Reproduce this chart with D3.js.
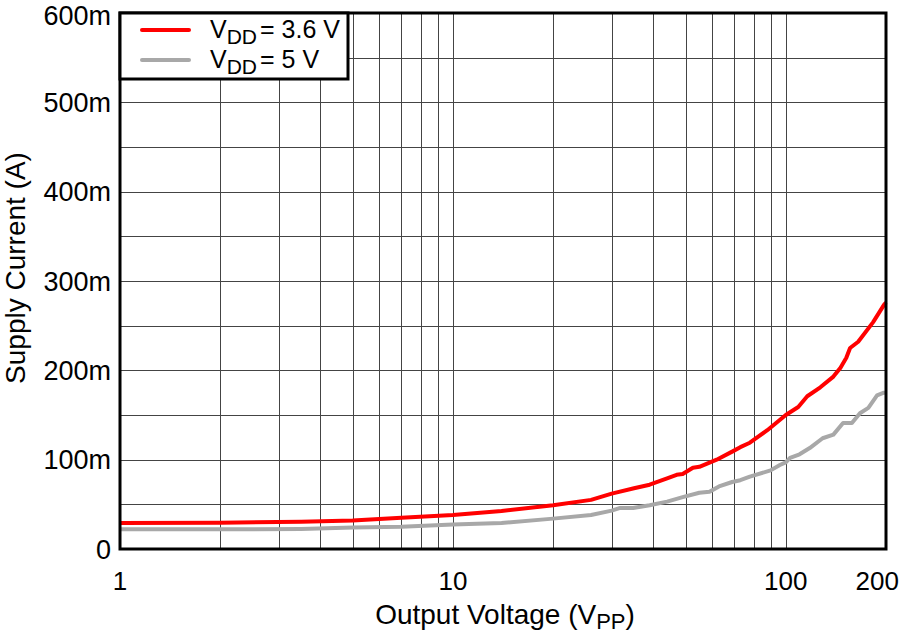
<!DOCTYPE html>
<html>
<head>
<meta charset="utf-8">
<script src="https://cdn.jsdelivr.net/npm/d3@7"></script>
<style>
  html, body { margin: 0; padding: 0; background: #fff; }
  svg { display: block; }
  text { font-family: "Liberation Sans", Arial, sans-serif; fill: #000; }
</style>
</head>
<body>
<svg id="chart" width="902" height="636"></svg>
<script>
// ---- Data (values in mA) ----
const vdd36Voltage = [1, 2, 3.5, 5, 7, 10, 14, 20, 26, 30, 35, 39, 44, 47, 49, 52.6, 55, 62, 69, 73, 78, 88, 100, 109, 116, 127, 139, 146, 152, 156, 165, 183, 197, 200];
const vdd36Current = [29, 29.5, 30.5, 32, 35, 38, 42.5, 49, 55, 62, 68, 72, 79, 83, 84, 91, 92, 100, 109, 114, 119, 133, 150, 159, 171, 181, 193, 203, 214, 225, 232, 254, 273, 276];

const vdd5Voltage = [1, 2, 3.5, 5, 7, 10, 14, 20, 26, 30, 31.8, 34.8, 39, 44, 49, 55, 59, 63, 69, 73, 78, 90, 96, 100, 103, 110, 118, 129, 139, 148.6, 158, 167, 177, 188, 197, 200];
const vdd5Current = [22, 22, 22.5, 24, 25, 27.5, 29, 34, 38, 43, 46, 46, 49, 53, 58, 63, 64, 70, 75, 77, 81, 88, 94, 97, 102, 106, 113, 124, 128, 141, 141, 152, 158, 172, 175, 175];

const yTickValues = [0, 100, 200, 300, 400, 500, 600];
const yTickLabels = ["0", "100m", "200m", "300m", "400m", "500m", "600m"];
const yGridValues = [50, 100, 150, 200, 250, 300, 350, 400, 450, 500, 550];
const xTickValues = [1, 10, 100, 200];
const xTickLabels = ["1", "10", "100", "200"];
const xGridValues = [2, 3, 4, 5, 6, 7, 8, 9, 10, 20, 30, 40, 50, 60, 70, 80, 90, 100];

const seriesNames = ["= 3.6 V", "= 5 V"];
const seriesColors = ["#ff0000", "#a8a8a8"];

// ---- Layout ----
const L = 120, R = 886, T = 13, B = 549;
const svg = d3.select("#chart");
const x = d3.scaleLog().domain([1, 200]).range([L, R]);
const y = d3.scaleLinear().domain([0, 600]).range([B, T]);

// Grid
const grid = svg.append("g");
grid.selectAll(".vg").data(xGridValues).enter().append("line")
  .attr("x1", d => Math.round(x(d)) + 0.5).attr("x2", d => Math.round(x(d)) + 0.5)
  .attr("y1", T).attr("y2", B)
  .attr("stroke", "#444").attr("stroke-width", 1);
grid.selectAll(".hg").data(yGridValues).enter().append("line")
  .attr("x1", L).attr("x2", R)
  .attr("y1", d => Math.round(y(d)) + 0.5).attr("y2", d => Math.round(y(d)) + 0.5)
  .attr("stroke", "#444").attr("stroke-width", 1);

// Lines
const line = d3.line().x(d => x(d[0])).y(d => y(d[1])).curve(d3.curveLinear);
const series = [
  d3.zip(vdd36Voltage, vdd36Current),
  d3.zip(vdd5Voltage, vdd5Current)
];
svg.append("path").datum(series[1]).attr("d", line)
  .attr("fill", "none").attr("stroke", seriesColors[1]).attr("stroke-width", 4).attr("stroke-linejoin", "round");
svg.append("path").datum(series[0]).attr("d", line)
  .attr("fill", "none").attr("stroke", seriesColors[0]).attr("stroke-width", 4).attr("stroke-linejoin", "round");

// Frame
svg.append("rect").attr("x", L).attr("y", T).attr("width", R - L).attr("height", B - T)
  .attr("fill", "none").attr("stroke", "#000").attr("stroke-width", 3);

// Y axis labels
svg.selectAll(".yl").data(yTickValues).enter().append("text")
  .attr("x", 111).attr("y", d => Math.max(y(d), 15)).attr("dy", "0.36em")
  .attr("text-anchor", "end").attr("font-size", 27)
  .text((d, i) => yTickLabels[i]);

// X axis labels
svg.selectAll(".xl").data(xTickValues).enter().append("text")
  .attr("x", d => d === 200 ? 899 : x(d)).attr("y", 590)
  .attr("text-anchor", d => d === 200 ? "end" : "middle").attr("font-size", 26)
  .text((d, i) => xTickLabels[i]);

// Axis titles
const xt = svg.append("text").attr("x", 505).attr("y", 624).attr("text-anchor", "middle").attr("font-size", 28);
xt.append("tspan").text("Output Voltage (V");
xt.append("tspan").attr("font-size", 22).attr("dy", 5).text("PP");
xt.append("tspan").attr("dy", -5).text(")");

svg.append("text").attr("transform", "translate(25,268) rotate(-90)")
  .attr("text-anchor", "middle").attr("font-size", 28).text("Supply Current (A)");

// Legend
const lg = svg.append("g");
lg.append("rect").attr("x", L).attr("y", T).attr("width", 228).attr("height", 66)
  .attr("fill", "#fff").attr("stroke", "#000").attr("stroke-width", 3);
[0, 1].forEach(i => {
  const yy = 30 + i * 30;
  lg.append("line").attr("x1", 142).attr("x2", 189).attr("y1", yy).attr("y2", yy)
    .attr("stroke", seriesColors[i]).attr("stroke-width", 4).attr("stroke-linecap", "round");
  const t = lg.append("text").attr("x", 210).attr("y", yy + 8).attr("font-size", 25);
  t.append("tspan").text("V");
  t.append("tspan").attr("font-size", 21).attr("dy", 6).text("DD");
  t.append("tspan").attr("dy", -6).attr("dx", 3).text(seriesNames[i]);
});
</script>
</body>
</html>
